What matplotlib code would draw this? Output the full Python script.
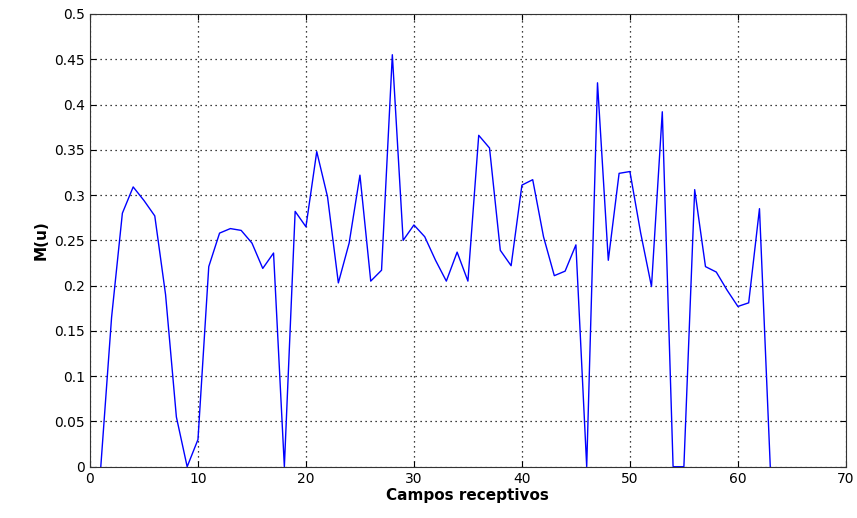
import numpy as np
import matplotlib.pyplot as plt

# receptive field index and M(u) values
campos = np.arange(1, 64)
m_u = [0.0, 0.165, 0.28, 0.309, 0.294, 0.277, 0.19, 0.055, 0.0, 0.03,
       0.221, 0.258, 0.263, 0.261, 0.247, 0.219, 0.236, 0.0, 0.282, 0.265,
       0.348, 0.298, 0.203, 0.247, 0.322, 0.205, 0.217, 0.455, 0.25, 0.267,
       0.254, 0.228, 0.205, 0.237, 0.205, 0.366, 0.352, 0.239, 0.222, 0.311,
       0.317, 0.254, 0.211, 0.216, 0.245, 0.0, 0.424, 0.228, 0.324, 0.326,
       0.258, 0.199, 0.392, 0.0, 0.0, 0.306, 0.221, 0.215, 0.195, 0.177,
       0.181, 0.285, 0.0]

xticks = np.arange(0, 71, 10)
yticks = np.arange(0, 0.51, 0.05)
ytick_labels = ['0', '0.05', '0.1', '0.15', '0.2', '0.25', '0.3', '0.35', '0.4', '0.45', '0.5']

fig = plt.figure(figsize=(8.57, 5.18), dpi=100)
ax = fig.add_axes([0.105, 0.099, 0.882, 0.874])
ax.plot(campos, m_u, color='#0000ff', linewidth=1.0)

ax.set_xlim(0, 70)
ax.set_ylim(0, 0.5)
ax.set_xticks(xticks)
ax.set_yticks(yticks)
ax.set_yticklabels(ytick_labels)
ax.grid(True, linestyle=(0, (1, 3)), color='black', linewidth=0.9)
ax.tick_params(direction='in', top=True, right=True, labelsize=10, length=4)
for s in ax.spines.values():
    s.set_color('#333333')
ax.set_xlabel('Campos receptivos', fontweight='bold', fontsize=11, labelpad=2)
ax.set_ylabel('M(u)', fontweight='bold', fontsize=11, labelpad=4)

fig.savefig('out.png', dpi=100)
